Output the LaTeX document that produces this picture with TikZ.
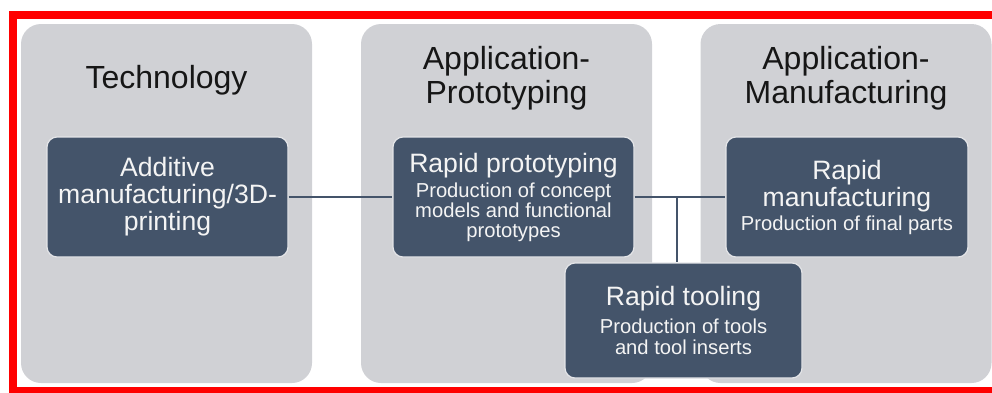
\documentclass[tikz,border=0pt]{standalone}
\usepackage{fontspec}
\setmainfont{Liberation Sans}
\usetikzlibrary{positioning}
\definecolor{panelgray}{HTML}{D0D1D5}
\definecolor{slateblue}{HTML}{44546A}
\definecolor{cardedge}{HTML}{E4E5E8}
\definecolor{headblack}{HTML}{161616}
\definecolor{cardtext}{HTML}{F4F4F4}
\newcommand{\titlefont}{\fontsize{13.3}{13.5}\selectfont}
\newcommand{\subfont}{\fontsize{10.1}{10}\selectfont\lineskiplimit=-100pt}

\begin{document}
\begin{tikzpicture}[x=0.5pt, y=-0.5pt,
    panel/.style={rectangle, rounded corners=10pt, fill=panelgray, inner sep=0pt,
        minimum width=145.5pt, minimum height=179.5pt},
    header/.style={align=center, text=headblack, inner sep=0pt, font=\fontsize{16}{17}\selectfont},
    card/.style={rectangle, rounded corners=5pt, fill=slateblue, draw=cardedge, line width=0.6pt,
        text=cardtext, align=center, inner sep=2pt, minimum width=120.5pt, minimum height=60pt,
        font=\subfont},
    link/.style={draw=slateblue, line width=1pt}]
    \useasboundingbox (0,0) rectangle (992,392);

    % outer frame
    \draw[red, line width=4pt] (12.5,15) rectangle (1010,391);

    % columns
    \node[panel] (techcol) at (166.5, 203.5) {};
    \node[panel] (protocol) at (506.5, 203.5) {};
    \node[panel] (manucol) at (846, 203.5) {};

    \node[header] (techhead) at (166.5, 80) {Technology};
    \node[header] (protohead) at (506.5, 78) {Application-\\Prototyping};
    \node[header] (manuhead) at (846, 78) {Application-\\Manufacturing};

    % cards
    \node[card, font=\titlefont] (additive) at (167.5, 197) {Additive\\manufacturing/3D-\\printing};
    \node[card] (rapidproto) at (513.5, 197) {{\titlefont Rapid prototyping}\\[2.5pt]
        Production of concept\\models and functional\\prototypes};
    \node[card, minimum width=121pt] (rapidmanu) at (847, 197) {{\titlefont Rapid}\\[3.5pt]
        {\titlefont manufacturing}\\[2pt]Production of final parts};
    \node[card, minimum width=118.5pt, minimum height=57.5pt] (rapidtool) at (683.5, 320.5)
        {{\titlefont Rapid tooling}\\[4pt]Production of tools\\[0.8pt]and tool inserts};

    % connectors
    \coordinate (split) at (677, 197);
    \draw[link] (additive) -- (rapidproto);
    \draw[link] (rapidproto) -- (rapidmanu);
    \draw[link] (split) -- (split |- rapidtool.north);
\end{tikzpicture}
\end{document}
